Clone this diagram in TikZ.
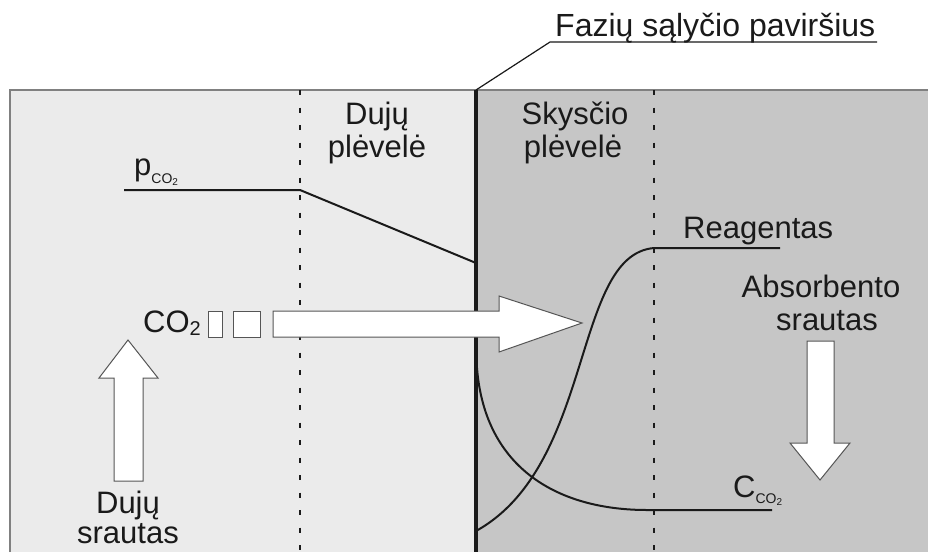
\documentclass[tikz,border=0pt]{standalone}
\usepackage{fontspec}
\setmainfont{Liberation Sans}
\definecolor{lightbg}{HTML}{EBEBEB}
\definecolor{darkbg}{HTML}{C6C6C6}
\definecolor{ink}{HTML}{1A1A1A}
\definecolor{edge}{HTML}{555555}
\begin{document}
\begin{tikzpicture}[x=1pt,y=-1pt,
  txt/.style={inner sep=0pt,text=ink,font=\fontsize{31}{33}\selectfont},
  dotline/.style={ink,line width=2.2pt,dash pattern=on 5pt off 12.5pt},
  curve/.style={ink,line width=2pt},
  fatarrow/.style={fill=white,draw=edge,line width=1pt,line join=miter},
  smallbox/.style={fill=white,draw=edge,line width=1pt}]
\useasboundingbox (0,0) rectangle (928,552);
\fill[white] (0,0) rectangle (928,552);
% backgrounds
\fill[lightbg] (10,90) rectangle (476,552);
\fill[darkbg] (476,90) rectangle (928,552);
\draw[gray,line width=1.5pt] (10,552) -- (10,90) -- (928,90);
% dotted film boundaries
\coordinate (d1t) at (300,90); \coordinate (d1b) at (300,552);
\coordinate (d2t) at (654,90); \coordinate (d2b) at (654,552);
\draw[dotline] (d1t) -- (d1b);
\draw[dotline] (d2t) -- (d2b);
% interface
\coordinate (it) at (476,90); \coordinate (ib) at (476,552);
\draw[ink,line width=4pt] (it) -- (ib);
% leader
\coordinate (lk) at (550,42); \coordinate (le) at (877,42);
\draw[ink,line width=1.2pt] (it) -- (lk) -- (le);
\node[txt,anchor=base west,font=\fontsize{32}{34}\selectfont] (faz) at (555,36) {Fazių sąlyčio paviršius};
% pCO2 profile
\coordinate (p0) at (124,190); \coordinate (p1) at (300,190); \coordinate (p2) at (476,263);
\draw[curve] (p0) -- (p1) -- (p2);
% Reagentas curve
\coordinate (r0) at (476,531); \coordinate (r1) at (654,248); \coordinate (r2) at (780,248);
\draw[curve] (r0) .. controls (595,465) and (572,255) .. (r1) -- (r2);
% C curve
\coordinate (c0) at (477,368); \coordinate (c1) at (647,510); \coordinate (c2) at (772,510);
\draw[curve] (c0) .. controls (485,470) and (560,510) .. (c1) -- (c2);
% big CO2 arrow
\draw[fatarrow] (273,311) -- (499,311) -- (499,296) -- (582,323) -- (499,352) -- (499,337) -- (273,337) -- cycle;
\draw[smallbox] (208,311) rectangle (222,337);
\draw[smallbox] (233,311) rectangle (260,337);
% gas flow arrow
\draw[fatarrow] (114,481) -- (114,378) -- (99,378) -- (128,340) -- (158,378) -- (143,378) -- (143,481) -- cycle;
% absorbent flow arrow
\draw[fatarrow] (807,341) -- (834,341) -- (834,443) -- (850,443) -- (820,480) -- (790,443) -- (807,443) -- cycle;
% texts
\node[txt,anchor=base] (dj1) at (377,124) {Dujų};
\node[txt,anchor=base] (dj2) at (377,157) {plėvelė};
\node[txt,anchor=base] (sk1) at (575,124) {Skysčio};
\node[txt,anchor=base] (sk2) at (573,157) {plėvelė};
\node[txt,anchor=base west] (pco) at (134,175) {p\raisebox{-8pt}{\fontsize{14}{14}\selectfont CO\raisebox{-2pt}{\fontsize{10}{10}\selectfont 2}}};
\node[txt,anchor=base west] (co2) at (143,332) {CO\raisebox{-3pt}{\fontsize{20}{20}\selectfont 2}};
\node[txt,anchor=base west] (rea) at (683,238) {Reagentas};
\node[txt,anchor=base] (ab1) at (821,297) {Absorbento};
\node[txt,anchor=base] (ab2) at (827,330) {srautas};
\node[txt,anchor=base west] (cco) at (733,497) {C\raisebox{-6pt}{\fontsize{14}{14}\selectfont CO\raisebox{-2pt}{\fontsize{10}{10}\selectfont 2}}};
\node[txt,anchor=base] (ds1) at (128,513) {Dujų};
\node[txt,anchor=base] (ds2) at (128,543) {srautas};
\end{tikzpicture}
\end{document}
